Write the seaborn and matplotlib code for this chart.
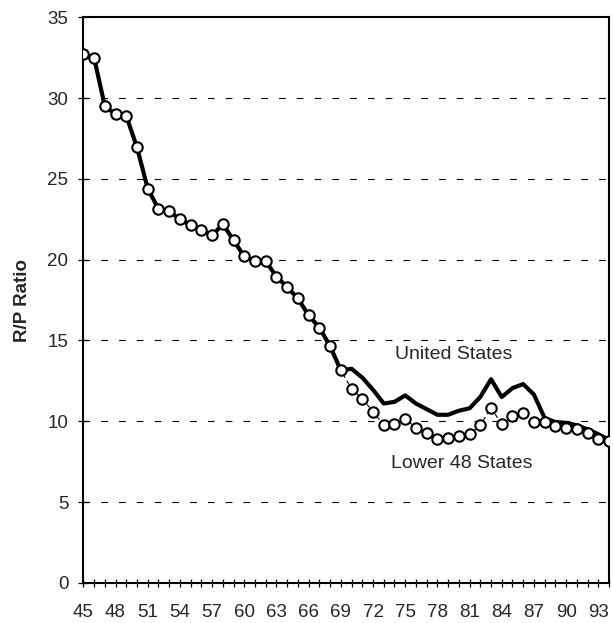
import numpy as np
import pandas as pd
import matplotlib
matplotlib.use("Agg")
import matplotlib.pyplot as plt
import seaborn as sns

# roky 1945-1994 (jen posledni dve cislice)
years = list(range(45, 95))

us = [32.7, 32.5, 29.5, 29.0, 28.9, 26.95, 24.4, 23.15, 23.0, 22.5,
      22.15, 21.85, 21.5, 22.2, 21.2, 20.2, 19.9, 19.9, 18.95, 18.3,
      17.6, 16.55, 15.8, 14.65, 13.15, 13.25, 12.7, 11.95, 11.1, 11.2,
      11.6, 11.1, 10.75, 10.4, 10.4, 10.65, 10.8, 11.5, 12.6, 11.5,
      12.05, 12.3, 11.65, 10.2, 9.95, 9.9, 9.75, 9.5, 9.2, 8.85]

lower48 = [32.7, 32.5, 29.5, 29.0, 28.9, 26.95, 24.4, 23.15, 23.0, 22.5,
           22.15, 21.85, 21.5, 22.2, 21.2, 20.2, 19.9, 19.9, 18.95, 18.3,
           17.6, 16.55, 15.8, 14.65, 13.15, 12.0, 11.4, 10.6, 9.75, 9.8,
           10.15, 9.6, 9.3, 8.9, 8.95, 9.1, 9.2, 9.75, 10.85, 9.8,
           10.3, 10.5, 9.95, 9.95, 9.7, 9.6, 9.5, 9.25, 8.9, 8.75]

tick_labels = [str(y) for y in years[::3]]

df = pd.DataFrame({"year": years, "us": us, "lower48": lower48})

sns.set_style("white")
plt.rcParams["font.family"] = ["Liberation Sans", "DejaVu Sans"]

fig = plt.figure(figsize=(6.13, 6.23), dpi=100)
ax = fig.add_axes([0.136, 0.0645, 0.8575, 0.9077])

sns.lineplot(data=df, x="year", y="us", ax=ax, color="black", linewidth=3.0,
             zorder=3)
sns.lineplot(data=df, x="year", y="lower48", ax=ax, color="black",
             linewidth=0.8, linestyle=(0, (4, 3)), marker="o", markersize=7.5,
             markerfacecolor="white", markeredgecolor="black",
             markeredgewidth=1.5, zorder=4)

ax.set_xlim(45, 94)
ax.set_ylim(0, 35)
ax.set_yticks(np.arange(0, 36, 5))
ax.set_xticks(years, minor=True)
ax.set_xticks(years[::3])
ax.set_xticklabels(tick_labels)
ax.tick_params(axis="both", which="both", direction="inout", length=7.5,
               width=0.9, color="black", labelsize=13.5,
               bottom=True, left=True, top=False, right=False)
ax.tick_params(axis="x", which="both", length=6)
ax.tick_params(axis="x", pad=12)
ax.tick_params(axis="y", pad=7)

for v in range(5, 35, 5):
    ax.axhline(v, color="black", linewidth=0.8, linestyle=(0, (6, 10)),
               zorder=1)

for s in ax.spines.values():
    s.set_visible(True)
    s.set_color("black")
    s.set_linewidth(1.5)

ax.set_xlabel("")
ax.set_ylabel("R/P Ratio", fontsize=13.5, fontweight="bold", labelpad=12)

ax.text(79.5, 14.15, "United States", fontsize=14, ha="center",
        va="center")
ax.text(80.3, 7.36, "Lower 48 States", fontsize=14, ha="center",
        va="center")

fig.savefig("out.png", dpi=100)
